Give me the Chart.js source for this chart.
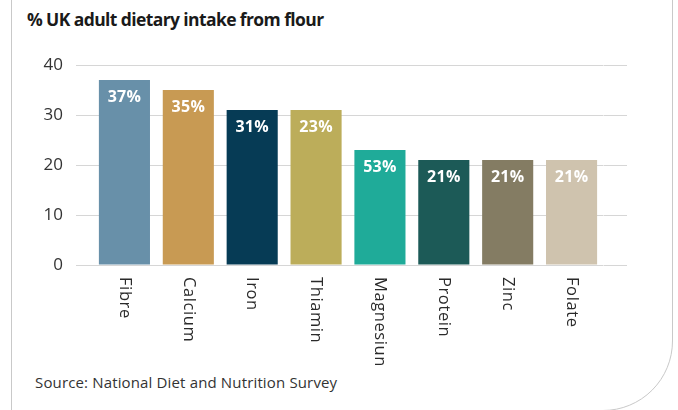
<!DOCTYPE html>
<html>
<head>
<meta charset="utf-8">
<script src="https://cdn.jsdelivr.net/npm/chart.js@4.4.1/dist/chart.umd.min.js"></script>
<style>
  html, body { margin: 0; padding: 0; background: #ffffff; }
  #wrap { position: relative; width: 678px; height: 410px; overflow: hidden; }
  #frame { position: absolute; left: 11px; top: -20px; width: 660px; height: 429px;
           border: 1px solid #c9c9c9; border-bottom-right-radius: 70px; box-sizing: content-box; }
  #title { position: absolute; left: 27px; top: 7px; font-family: "Open Sans", sans-serif;
           font-weight: 700; font-size: 17.5px; color: #1a1a1a; white-space: nowrap; letter-spacing: -0.6px; }
  #source { position: absolute; left: 35px; top: 372px; font-family: "Open Sans", sans-serif;
            font-size: 15px; letter-spacing: 0.15px; color: #333333; white-space: nowrap; }
  #chartBox { position: absolute; left: 0; top: 0; width: 678px; height: 410px; }
</style>
</head>
<body>
<div id="wrap">
  <div id="frame"></div>
  <div id="title">% UK adult dietary intake from flour</div>
  <div id="source">Source: National Diet and Nutrition Survey</div>
  <div id="chartBox"><canvas id="c"></canvas></div>
</div>
<script>
// ---- data ----
const categories = ["Fibre", "Calcium", "Iron", "Thiamin", "Magnesiun", "Protein", "Zinc", "Folate"];
const values = [37, 35, 31, 31, 23, 21, 21, 21];
const valueLabels = ["37%", "35%", "31%", "23%", "53%", "21%", "21%", "21%"];
const barColors = ["#6890A9", "#C89A53", "#063B55", "#BCAD5A", "#1FAB99", "#1C5A57", "#847C63", "#CFC3AE"];
const yTicks = [0, 10, 20, 30, 40];

const FONT = '"Open Sans", sans-serif';

const labelPlugin = {
  id: 'labelPlugin',
  afterDatasetsDraw(chart) {
    const ctx = chart.ctx;
    const meta = chart.getDatasetMeta(0);
    ctx.save();
    ctx.fillStyle = '#ffffff';
    ctx.font = 'bold 16px ' + FONT;
    ctx.letterSpacing = '0.3px';
    ctx.textAlign = 'center';
    ctx.textBaseline = 'middle';
    meta.data.forEach((bar, i) => {
      ctx.fillText(valueLabels[i], bar.x, bar.y + 17);
    });
    ctx.restore();
  },
  afterDraw(chart) {
    const ctx = chart.ctx;
    const xs = chart.scales.x;
    const top = chart.chartArea.bottom + 12;
    ctx.save();
    ctx.fillStyle = '#2a2a2a';
    ctx.font = '16.5px ' + FONT;
    ctx.letterSpacing = '0.6px';
    ctx.textAlign = 'left';
    ctx.textBaseline = 'middle';
    categories.forEach((lab, i) => {
      const x = xs.getPixelForValue(i);
      ctx.save();
      ctx.translate(x, top);
      ctx.rotate(Math.PI / 2);
      ctx.fillText(lab, 0, 0);
      ctx.restore();
    });
    ctx.restore();
  }
};

new Chart(document.getElementById('c'), {
  type: 'bar',
  data: {
    labels: categories,
    datasets: [{
      data: values,
      backgroundColor: barColors,
      borderWidth: 0,
      barPercentage: 1.0,
      categoryPercentage: 0.8
    }]
  },
  options: {
    responsive: true,
    maintainAspectRatio: false,
    animation: false,
    layout: { padding: { top: 65, left: 27, right: 51, bottom: 137 } },
    plugins: { legend: { display: false }, tooltip: { enabled: false } },
    scales: {
      x: {
        grid: { display: false },
        border: { display: false },
        ticks: { display: false }
      },
      y: {
        min: 0, max: 40,
        afterBuildTicks(scale) { scale.ticks = yTicks.map(v => ({ value: v })); },
        afterFit(scale) { scale.width = 65.5; },
        grid: { color: '#d6d6d6', lineWidth: 1, tickLength: 16.5, drawTicks: true },
        border: { display: false },
        ticks: { color: '#333333', padding: 13, font: { family: FONT, size: 17 } }
      },
      y2: {
        position: 'right',
        min: 0, max: 40,
        afterBuildTicks(scale) { scale.ticks = yTicks.map(v => ({ value: v })); },
        afterFit(scale) { scale.width = 23.5; },
        grid: { color: '#d6d6d6', lineWidth: 1, tickLength: 23.5, drawOnChartArea: false },
        border: { display: false },
        ticks: { display: false }
      }
    }
  },
  plugins: [labelPlugin]
});
</script>
</body>
</html>
